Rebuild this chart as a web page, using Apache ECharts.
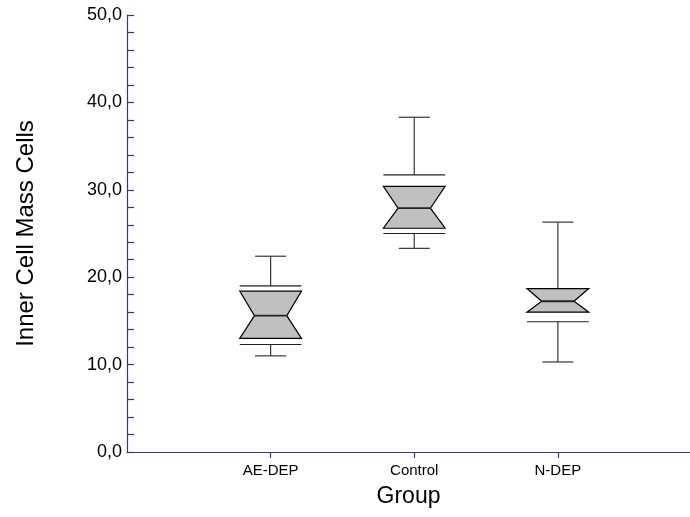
<!DOCTYPE html>
<html>
<head>
<meta charset="utf-8">
<script src="https://cdn.jsdelivr.net/npm/echarts@6/dist/echarts.min.js"></script>
<style>html,body{margin:0;padding:0;background:#fff}#c{width:690px;height:517px}</style>
</head>
<body>
<div id="c"></div>
<script>
// Data
var categories = ['AE-DEP', 'Control', 'N-DEP'];
var whiskerLow  = [11.0, 23.3, 10.3];
var lowerLine   = [12.3, 25.0, 14.9];
var notchLow    = [13.0, 25.6, 16.0];
var median      = [15.6, 27.9, 17.25];
var notchHigh   = [18.4, 30.4, 18.7];
var upperLine   = [19.0, 31.7, 18.7];
var whiskerHigh = [22.4, 38.3, 26.3];
var yTicks = [0, 10, 20, 30, 40, 50];
var catPositions = [1, 2, 3];

var seriesData = categories.map(function (c, i) {
  return [catPositions[i], whiskerLow[i], lowerLine[i], notchLow[i], median[i], notchHigh[i], upperLine[i], whiskerHigh[i]];
});

var FONT = 'Liberation Sans, Arial, sans-serif';
var AXIS = '#333399';

function renderItem(params, api) {
  var x = api.value(0);
  var band = api.size([1, 0])[0];
  var half = band * 0.215;
  var inset = band * 0.1025;
  var capHalf = band * 0.108;
  var cx = api.coord([x, 0])[0];
  function Y(v) { return api.coord([x, v])[1]; }
  var wl = Y(api.value(1)), ll = Y(api.value(2)), nl = Y(api.value(3)),
      md = Y(api.value(4)), nh = Y(api.value(5)), ul = Y(api.value(6)), wh = Y(api.value(7));
  var topEdge = Math.min(nh, ul);
  var botEdge = Math.max(nl, ll);
  var wStyle = { stroke: '#383838', lineWidth: 1.2 };
  var L = cx - half, R = cx + half;
  return {
    type: 'group',
    children: [
      { type: 'line', shape: { x1: cx, y1: topEdge, x2: cx, y2: wh }, style: wStyle },
      { type: 'line', shape: { x1: cx - capHalf, y1: wh, x2: cx + capHalf, y2: wh }, style: wStyle },
      { type: 'line', shape: { x1: cx, y1: botEdge, x2: cx, y2: wl }, style: wStyle },
      { type: 'line', shape: { x1: cx - capHalf, y1: wl, x2: cx + capHalf, y2: wl }, style: wStyle },
      { type: 'line', shape: { x1: L, y1: ul, x2: R, y2: ul }, style: { stroke: '#222', lineWidth: 1.2 } },
      { type: 'line', shape: { x1: L, y1: ll, x2: R, y2: ll }, style: { stroke: '#222', lineWidth: 1.2 } },
      { type: 'polygon', shape: { points: [[L, nh], [R, nh], [R - inset, md], [R, nl], [L, nl], [L + inset, md]] },
        style: { fill: '#c0c0c0', stroke: '#000', lineWidth: 1.2 } },
      { type: 'line', shape: { x1: L + inset, y1: md, x2: R - inset, y2: md }, style: { stroke: '#222', lineWidth: 1.8 } }
    ]
  };
}

var chart = echarts.init(document.getElementById('c'), null, { renderer: 'canvas' });
chart.setOption({
  animation: false,
  backgroundColor: '#fff',
  grid: { left: 127, top: 15, width: 563, height: 437, containLabel: false, outerBoundsMode: 'none' },
  xAxis: {
    type: 'value',
    min: 0,
    max: 3.92,
    interval: 1,
    name: 'Group',
    nameLocation: 'middle',
    nameGap: 33,
    nameTextStyle: { fontFamily: FONT, fontSize: 23, color: '#000' },
    axisLine: { lineStyle: { color: AXIS, width: 1.2 } },
    axisTick: { show: true, length: 6, customValues: catPositions, lineStyle: { color: AXIS, width: 1.2 } },
    axisLabel: {
      margin: 11, fontFamily: FONT, fontSize: 15, color: '#000',
      customValues: catPositions,
      formatter: function (v) { var i = catPositions.indexOf(v); return i >= 0 ? categories[i] : ''; }
    },
    splitLine: { show: false }
  },
  yAxis: {
    type: 'value',
    min: yTicks[0],
    max: yTicks[yTicks.length - 1],
    interval: 10,
    name: 'Inner Cell Mass Cells',
    nameLocation: 'middle',
    nameGap: 89,
    nameTextStyle: { fontFamily: FONT, fontSize: 24, color: '#000' },
    axisLine: { show: true, lineStyle: { color: AXIS, width: 1.2 } },
    axisTick: { show: true, inside: true, length: 7, lineStyle: { color: AXIS, width: 1.2 } },
    minorTick: { show: true, splitNumber: 5, length: 7, lineStyle: { color: AXIS, width: 1.2 } },
    axisLabel: {
      margin: 5, fontFamily: FONT, fontSize: 18, color: '#000',
      formatter: function (v) { return v.toFixed(1).replace('.', ','); }
    },
    splitLine: { show: false }
  },
  series: [{
    type: 'custom',
    renderItem: renderItem,
    encode: { x: 0, y: [1, 2, 3, 4, 5, 6, 7] },
    data: seriesData,
    clip: false
  }]
});
</script>
</body>
</html>
